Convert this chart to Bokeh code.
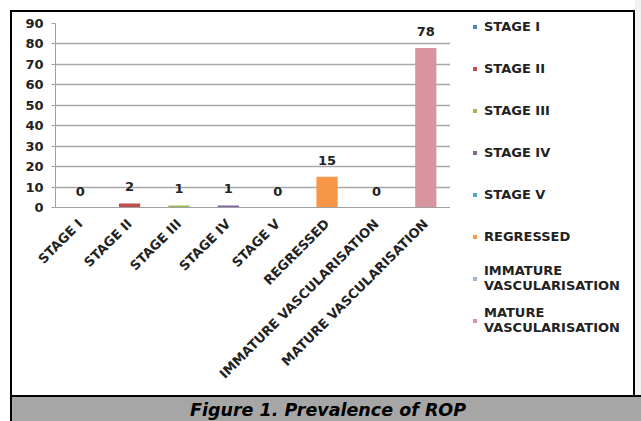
from math import pi
from bokeh.plotting import figure
from bokeh.models import ColumnDataSource, Range1d, FactorRange, Legend, LegendItem
from bokeh.layouts import row, column
from bokeh.core.properties import value
from bokeh.embed import file_html
from bokeh.resources import INLINE

categories = ["STAGE I", "STAGE II", "STAGE III", "STAGE IV", "STAGE V",
              "REGRESSED", "IMMATURE VASCULARISATION", "MATURE VASCULARISATION"]
legend_labels = ["STAGE I", "STAGE II", "STAGE III", "STAGE IV", "STAGE V",
                 "REGRESSED", "IMMATURE\nVASCULARISATION", "MATURE\nVASCULARISATION"]
values = [0, 2, 1, 1, 0, 15, 0, 78]
colors = ["#4F81BD", "#C0504D", "#9BBB59", "#8064A2", "#4BACC6",
          "#F79646", "#A3B1DA", "#D8959F"]
y_ticks = [0, 10, 20, 30, 40, 50, 60, 70, 80, 90]
caption = "Figure 1. Prevalence of ROP"

FONT = "DejaVu Sans"
TXT = "#222222"

src = ColumnDataSource(dict(cat=categories, val=values, color=colors,
                            leg=legend_labels, lbl=[str(v) for v in values]))

page_bg = ", ".join([
    "linear-gradient(#000,#000) 10px 10px / 625px 2px no-repeat",
    "linear-gradient(#000,#000) 10px 10px / 2px 411px no-repeat",
    "linear-gradient(#000,#000) 633px 10px / 2px 386px no-repeat",
    "linear-gradient(#000,#000) 10px 395px / 631px 2px no-repeat",
    "linear-gradient(#a6a6a6,#a6a6a6) 12px 397px / 629px 24px no-repeat",
    "linear-gradient(#f2f2f2,#f2f2f2) 635px 0px / 6px 395px no-repeat",
    "#ffffff",
])


def no_align(f):
    try:
        f.frame_align = False
    except Exception:
        pass


# ---- main chart ----
p = figure(x_range=FactorRange(*categories), y_range=Range1d(0, 90),
           width=450, height=395, output_backend="svg", toolbar_location=None,
           min_border_left=55, min_border_right=0, min_border_top=23,
           min_border_bottom=188)
no_align(p)
p.outline_line_color = None
p.background_fill_color = "white"
p.border_fill_color = None

p.vbar(x="cat", top="val", width=0.43, fill_color="color", line_color=None,
       source=src)
p.text(x="cat", y="val", text="lbl", source=src, text_align="center",
       text_baseline="bottom", y_offset=-12, text_font=value(FONT),
       text_font_style="bold", text_font_size="13px", text_color=TXT)

p.yaxis.ticker = y_ticks
p.yaxis.major_label_text_font = FONT
p.yaxis.major_label_text_font_style = "bold"
p.yaxis.major_label_text_font_size = "13px"
p.yaxis.major_label_text_color = TXT
p.yaxis.axis_line_color = "#a0a0a0"
p.yaxis.major_tick_line_color = "#a0a0a0"
p.yaxis.major_tick_out = 4
p.yaxis.major_tick_in = 0
p.yaxis.minor_tick_line_color = None
p.yaxis.major_label_standoff = 8

p.xaxis.major_label_orientation = pi / 4
p.xaxis.major_label_text_font = FONT
p.xaxis.major_label_text_font_style = "bold"
p.xaxis.major_label_text_font_size = "13px"
p.xaxis.major_label_text_color = TXT
p.xaxis.axis_line_color = "#a0a0a0"
p.xaxis.major_tick_line_color = None
p.xaxis.major_label_standoff = 8

p.xgrid.grid_line_color = None
p.ygrid.grid_line_color = "#a8a8a8"
p.ygrid.grid_line_width = 1.5

# ---- legend panel ----
lf = figure(x_range=FactorRange(*categories), y_range=Range1d(1000, 1001),
            width=191, height=395, output_backend="svg", toolbar_location=None,
            x_axis_location=None, y_axis_location=None, min_border=0)
no_align(lf)
lf.grid.visible = False
lf.outline_line_color = None
lf.background_fill_color = None
lf.border_fill_color = None
swatch = lf.vbar(x="cat", top="val", width=0.43, fill_color="color",
                 line_color=None, source=src)

lg = Legend(items=[LegendItem(label=legend_labels[i], renderers=[swatch], index=i)
                   for i in range(len(categories))])
lg.location = (22, 60)
lg.border_line_color = None
lg.background_fill_alpha = 0
lg.padding = 0
lg.margin = 0
lg.spacing = 12
lg.label_height = 30
lg.glyph_width = 5
lg.glyph_height = 5
lg.label_standoff = 7
lg.label_text_font = FONT
lg.label_text_font_style = "bold"
lg.label_text_font_size = "13px"
lg.label_text_color = TXT
lf.add_layout(lg)

# ---- caption band ----
cf = figure(x_range=Range1d(0, 1), y_range=Range1d(0, 1), width=641, height=26,
            output_backend="svg", toolbar_location=None,
            x_axis_location=None, y_axis_location=None, min_border=0)
no_align(cf)
cf.grid.visible = False
cf.outline_line_color = None
cf.background_fill_color = None
cf.border_fill_color = None
cf.text(x=[0.511], y=[0.45], text=[caption], text_align="center",
        text_baseline="middle", text_font=value(FONT),
        text_font_style="bold italic", text_font_size="17.5px", text_color="black")

layout = column(row(p, lf, spacing=0), cf, spacing=0,
                styles={"background": page_bg})
open("out.html", "w").write(file_html(layout, INLINE))
